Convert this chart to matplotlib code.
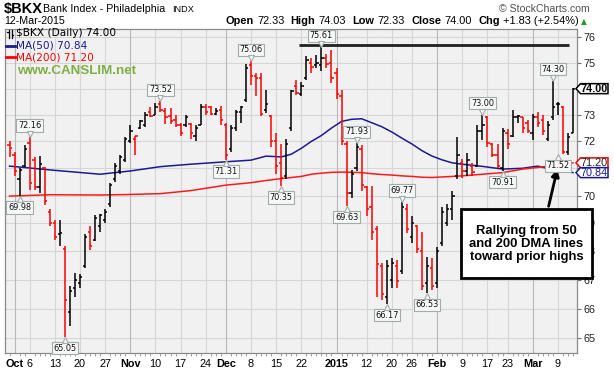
import matplotlib
matplotlib.use('Agg')
import matplotlib.pyplot as plt
import matplotlib.patches as mpatches
import matplotlib.transforms as mtransforms
from matplotlib.lines import Line2D
from matplotlib.ticker import FixedLocator, NullFormatter, NullLocator
import numpy as np
import pandas as pd

plt.rcParams['font.family'] = ['Liberation Sans', 'DejaVu Sans']

# trading days shown (Sep 30 2014 - Mar 12 2015)
holidays = ['2014-11-27', '2014-12-25', '2015-01-01', '2015-01-19', '2015-02-16']
dates = pd.bdate_range('2014-09-30', '2015-03-12')
dates = dates[~dates.isin(pd.to_datetime(holidays))]

opens = [71.85, 71.50, 70.60, 71.10, 71.95, 71.30, 70.30, 71.00, 69.40, 69.00,
         68.60, 68.10, 65.90, 66.70, 66.90, 67.50, 68.70, 68.40, 68.90, 69.10,
         69.70, 70.60, 70.90, 71.30, 72.00, 72.10, 72.50, 72.60, 73.10, 73.00,
         73.40, 73.15, 72.95, 72.80, 72.60, 72.60, 72.65, 72.20, 72.60, 73.30,
         73.30, 73.05, 73.20, 72.60, 71.70, 72.50, 73.10, 73.55, 74.90, 74.50,
         74.40, 73.20, 72.95, 72.00, 71.20, 70.70, 72.50, 74.10, 73.80, 74.40,
         75.00, 74.90, 74.90, 75.20, 75.00, 74.60, 73.70, 71.90, 70.10, 71.00,
         71.70, 70.30, 69.60, 68.80, 67.50, 66.40, 67.00, 67.50, 67.30, 69.50,
         68.50, 68.90, 68.00, 66.90, 67.40, 66.90, 68.30, 69.00, 69.50, 70.70,
         71.20, 70.90, 71.10, 71.10, 72.40, 72.90, 71.90, 71.50, 71.00, 72.30,
         72.20, 72.90, 72.90, 72.70, 72.30, 72.90, 72.80, 72.10, 72.90, 73.40,
         73.30, 71.60, 72.33]
highs = [72.00, 71.60, 71.00, 71.85, 72.16, 71.40, 71.45, 71.05, 69.50, 69.10,
         69.10, 68.20, 66.80, 67.25, 67.20, 68.60, 68.90, 69.30, 69.35, 69.50,
         70.45, 71.20, 71.50, 72.15, 72.60, 72.20, 72.80, 73.10, 73.30, 73.45,
         73.52, 73.25, 73.25, 73.00, 72.70, 73.00, 72.70, 72.60, 73.40, 73.40,
         73.35, 73.25, 73.35, 72.70, 72.60, 73.20, 73.35, 74.95, 75.06, 74.60,
         74.60, 73.95, 73.00, 72.30, 71.90, 72.10, 73.95, 74.35, 74.25, 75.25,
         75.20, 75.30, 75.61, 75.35, 75.50, 74.80, 73.95, 72.00, 70.95, 71.93,
         71.85, 70.35, 70.35, 68.90, 67.60, 67.70, 67.75, 67.70, 69.77, 69.70,
         69.25, 68.95, 68.70, 67.80, 67.75, 68.15, 69.60, 69.70, 70.15, 72.15,
         71.35, 71.55, 71.20, 72.60, 73.00, 72.95, 71.95, 71.90, 72.50, 72.45,
         73.20, 73.00, 72.90, 72.80, 73.05, 73.10, 73.00, 72.75, 74.30, 73.50,
         73.35, 72.30, 74.03]
lows = [71.40, 70.70, 69.98, 71.05, 70.20, 70.20, 70.10, 69.65, 68.90, 68.40,
        68.20, 65.05, 65.40, 66.40, 66.70, 67.40, 68.05, 68.35, 68.70, 69.00,
        69.60, 70.50, 70.80, 71.25, 71.95, 71.50, 72.45, 72.55, 72.90, 72.99,
        73.10, 72.65, 72.65, 72.55, 72.20, 72.55, 72.10, 72.00, 72.60, 73.00,
        73.00, 73.00, 72.60, 71.31, 71.60, 72.40, 72.70, 73.50, 74.15, 73.70,
        72.95, 73.06, 71.80, 70.80, 70.35, 70.60, 72.40, 73.75, 73.70, 74.35,
        74.60, 74.80, 74.70, 74.80, 74.20, 73.60, 71.85, 69.63, 69.90, 70.90,
        70.15, 69.25, 68.40, 66.40, 66.30, 66.17, 66.70, 66.70, 67.20, 68.65,
        68.30, 67.95, 66.65, 66.53, 66.65, 66.70, 68.20, 68.90, 69.10, 70.60,
        70.65, 70.70, 70.70, 71.05, 72.05, 71.80, 71.40, 71.00, 70.91, 71.70,
        72.15, 72.70, 72.30, 72.30, 72.05, 72.55, 72.25, 72.00, 72.80, 73.00,
        71.52, 71.50, 72.33]
closes = [71.75, 70.90, 70.95, 71.70, 70.45, 70.30, 71.15, 69.80, 69.00, 68.50,
          68.65, 66.30, 66.60, 67.00, 67.10, 68.50, 68.20, 69.20, 69.30, 69.40,
          70.40, 71.10, 71.40, 72.10, 72.40, 72.20, 72.75, 73.00, 72.95, 73.30,
          73.20, 72.90, 72.75, 72.60, 72.30, 72.90, 72.30, 72.50, 73.30, 73.10,
          73.05, 73.15, 72.80, 71.50, 72.50, 73.10, 73.30, 74.80, 74.50, 74.40,
          73.05, 73.40, 72.00, 71.10, 70.65, 71.90, 73.90, 73.85, 74.10, 75.10,
          74.85, 75.00, 75.20, 74.95, 74.40, 73.80, 72.00, 70.10, 70.80, 71.80,
          70.40, 69.50, 68.70, 67.55, 66.50, 67.50, 67.60, 66.95, 69.60, 68.80,
          69.00, 68.10, 66.80, 67.50, 66.80, 68.00, 69.40, 69.50, 70.00, 71.50,
          70.90, 71.30, 70.85, 72.40, 72.60, 71.95, 71.50, 71.10, 72.40, 71.90,
          72.90, 72.95, 72.50, 72.40, 72.90, 72.70, 72.40, 72.60, 73.30, 73.40,
          71.60, 72.17, 74.00]

# moving averages at some bars
ma_idx = [0, 8, 18, 24, 30, 36, 43, 48, 51, 54, 56, 58, 60, 62, 64, 66, 68, 70, 72, 74,
          76, 78, 80, 82, 84, 86, 88, 90, 94, 98, 102, 105, 108, 112]
ma50 = [71.08, 70.94, 70.78, 70.90, 71.06, 71.15, 71.24, 71.30, 71.45, 71.42,
        71.52, 71.74, 72.00, 72.22, 72.50, 72.75, 72.83, 72.85, 72.70, 72.55,
        72.35, 72.12, 71.90, 71.65, 71.45, 71.31, 71.20, 71.15, 71.07, 70.97,
        71.00, 71.08, 70.95, 70.84]
ma200 = [69.98, 70.03, 70.02, 70.04, 70.07, 70.18, 70.38, 70.47, 70.55, 70.62,
         70.66, 70.70, 70.78, 70.82, 70.85, 70.86, 70.85, 70.84, 70.80, 70.77,
         70.75, 70.72, 70.70, 70.67, 70.66, 70.68, 70.70, 70.72, 70.78, 70.84,
         70.97, 71.03, 71.10, 71.20]

tick_dates = ['2014-10-01', '2014-10-06', '2014-10-13', '2014-10-20', '2014-10-27',
              '2014-11-03', '2014-11-10', '2014-11-17', '2014-11-24', '2014-12-01',
              '2014-12-08', '2014-12-15', '2014-12-22', '2015-01-02', '2015-01-12',
              '2015-01-20', '2015-01-26', '2015-02-02', '2015-02-09', '2015-02-17',
              '2015-02-23', '2015-03-02', '2015-03-09']
tick_labels = ['Oct', '6', '13', '20', '27', 'Nov', '10', '17', '24', 'Dec', '8', '15', '22',
               '2015', '12', '20', '26', 'Feb', '9', '17', '23', 'Mar', '9']
month_labels = ['Oct', 'Nov', 'Dec', '2015', 'Feb', 'Mar']
extra_grid = ['2014-12-29']
y_ticks = [65, 66, 67, 68, 69, 70, 71, 72, 73, 74, 75, 76]
hidden_y = [71, 74]  # covered by the price tags

# labelled highs / lows
label_idx = [4, 2, 11, 30, 43, 48, 54, 62, 67, 69, 75, 78, 83, 94, 98, 108, 110]
label_kind = ['h', 'l', 'l', 'h', 'l', 'h', 'l', 'h', 'l', 'h', 'l', 'h', 'l', 'h', 'l', 'h', 'l']
resistance = 75.70

W, H = 614, 375
fig = plt.figure(figsize=(W / 100, H / 100), dpi=100, facecolor='white')
ax = fig.add_axes([5 / W, 1 - 353 / H, 572 / W, 324 / H])
ax.set_facecolor('#f1f1f1')

def fx(px):
    return px / W

def fy(py):
    return 1 - py / H

n = len(closes)
x = np.arange(n)
prev = [opens[0]] + closes[:-1]
colors = ['#ff0000' if c < p else '#000000' for c, p in zip(closes, prev)]

ax.set_yscale('log')
ax.set_ylim(64.5, 76.33)
ax.set_xlim(-0.9, 112.8)

# grid
for v in y_ticks:
    ax.axhline(v, color='#d6d6d6', lw=0.8, zorder=0)
for d, lab in zip(tick_dates, tick_labels):
    k = dates.get_loc(pd.Timestamp(d))
    ax.axvline(k, color='#b8b8b8' if lab in month_labels else '#d6d6d6', lw=0.8, zorder=0)
for d in extra_grid:
    ax.axvline(dates.get_loc(pd.Timestamp(d)), color='#d6d6d6', lw=0.8, zorder=0)

# moving averages
ax.plot(ma_idx, ma50, color='#1a1a90', lw=1.1, zorder=2)
ax.plot(ma_idx, ma200, color='#ff1a1a', lw=1.1, zorder=2)

# OHLC bars
ax.vlines(x, lows, highs, colors=colors, lw=1.1, zorder=3)
ax.hlines(opens, x - 0.45, x, colors=colors, lw=1.1, zorder=3)
ax.hlines(closes, x, x + 0.45, colors=colors, lw=1.1, zorder=3)

# resistance line at prior highs
ax.hlines(resistance, 57.5, 111.3, colors='#202020', lw=2, zorder=4)

# axes styling
for s in ax.spines.values():
    s.set_color('#8a8a8a')
    s.set_linewidth(0.9)
ax.yaxis.tick_right()
ax.yaxis.set_major_locator(FixedLocator(y_ticks))
ax.yaxis.set_minor_locator(NullLocator())
ax.yaxis.set_minor_formatter(NullFormatter())
ax.set_yticklabels(['' if v in hidden_y else str(v) for v in y_ticks])
ax.tick_params(axis='y', which='major', length=3, pad=2, labelsize=7.8,
               color='#707070', labelcolor='#202020')

tick_pos = [dates.get_loc(pd.Timestamp(d)) for d in tick_dates]
ax.set_xticks(tick_pos)
ax.set_xticklabels(tick_labels)
ax.set_xticks(x, minor=True)
ax.tick_params(axis='x', which='major', length=0, pad=4, labelsize=7.8)
ax.tick_params(axis='x', which='minor', length=2, color='#909090', width=0.6)
for t in ax.get_xticklabels():
    if t.get_text() in month_labels:
        t.set_fontweight('bold')

# high / low labels
for k, kind in zip(label_idx, label_kind):
    if kind == 'h':
        price, dy, va, mk = highs[k], 7, 'bottom', 'v'
    else:
        price, dy, va, mk = lows[k], -7, 'top', '^'
    dx = -5 if k == 110 else 0
    ax.annotate(f'{price:.2f}', xy=(k, price), xytext=(dx, dy),
                textcoords='offset pixels', ha='center', va=va,
                fontsize=5.9, family='DejaVu Sans', color='#111111', zorder=6,
                bbox=dict(boxstyle='square,pad=0.2', fc='#f6f7f7', ec='#a0abab', lw=0.8))
    tr = mtransforms.offset_copy(ax.transData, fig=fig, x=dx, y=3 if kind == 'h' else -3,
                                 units='dots')
    ax.plot([k], [price], marker=mk, ms=4, mfc='#f6f7f7', mec='#a0abab', mew=0.8,
            transform=tr, zorder=6, clip_on=False)

# price tags on the right axis
def price_tag(price, text, edge, tcolor, weight):
    yd = ax.transData.transform((0, price))[1]
    py = H - yd
    pts = [(576, py), (580.5, py - 5), (608, py - 5), (608, py + 5), (580.5, py + 5)]
    poly = mpatches.Polygon([(fx(a), fy(b)) for a, b in pts], closed=True,
                            transform=fig.transFigure, fc='white', ec=edge, lw=1.1)
    fig.add_artist(poly)
    fig.text(fx(594.5), fy(py), text, ha='center', va='center', fontsize=7.8,
             color=tcolor, fontweight=weight)

price_tag(ma200[-1], f'{ma200[-1]:.2f}', '#ff0000', '#202020', 'normal')
price_tag(ma50[-1], f'{ma50[-1]:.2f}', '#1a1a90', '#1a1a90', 'normal')
price_tag(closes[-1], f'{closes[-1]:.2f}', '#000000', '#000000', 'bold')

# legend inside the plot
for bx in (8.5, 11.5):
    fig.add_artist(Line2D([fx(bx), fx(bx)], [fy(30), fy(37.5)], color='#000000', lw=0.9))
fig.add_artist(Line2D([fx(7), fx(8.5)], [fy(32), fy(32)], color='#000000', lw=0.9))
fig.add_artist(Line2D([fx(11.5), fx(13)], [fy(35), fy(35)], color='#000000', lw=0.9))
fig.text(fx(16), fy(33.5), f'$BKX (Daily) {closes[-1]:.2f}', fontsize=7.6,
         family='DejaVu Sans', va='center', color='#000000')
fig.add_artist(Line2D([fx(6), fx(15)], [fy(45.5), fy(45.5)], color='#1a1a90', lw=2))
fig.text(fx(16), fy(45.5), f'MA(50) {ma50[-1]:.2f}', fontsize=7.6,
         family='DejaVu Sans', va='center', color='#1a1a90')
fig.add_artist(Line2D([fx(6), fx(15)], [fy(57), fy(57)], color='#ff0000', lw=2))
fig.text(fx(16), fy(57), f'MA(200) {ma200[-1]:.2f}', fontsize=7.6,
         family='DejaVu Sans', va='center', color='#ff0000')
fig.text(fx(17), fy(70.5), 'www.CANSLIM.net', fontsize=9.6, fontweight='bold',
         va='center', color='#7fae45')

# header
fig.text(fx(4), fy(9), '$BKX', fontsize=10.5, fontweight='bold', va='center')
fig.text(fx(43), fy(9.5), 'Bank Index - Philadelphia', fontsize=7.7, va='center')
fig.text(fx(172), fy(9.5), 'INDX', fontsize=6.6, va='center')
fig.text(fx(590), fy(8.5), '© StockCharts.com', fontsize=7.6, va='center', ha='right',
         color='#505050')
fig.text(fx(4), fy(21.5), '12-Mar-2015', fontsize=7.7, va='center')

chg = closes[-1] - closes[-2]
pct = chg / closes[-2] * 100
pieces = [('Open', 'bold'), (f'{opens[-1]:.2f}', 'normal'),
          ('High', 'bold'), (f'{highs[-1]:.2f}', 'normal'),
          ('Low', 'bold'), (f'{lows[-1]:.2f}', 'normal'),
          ('Close', 'bold'), (f'{closes[-1]:.2f}', 'normal'),
          ('Chg', 'bold'), (f'{chg:+.2f} ({pct:+.2f}%)', 'normal')]
renderer = fig.canvas.get_renderer()
fig.text(fx(587), fy(21.5), '▲', fontsize=5.5, ha='right', va='center', color='#1fa01f',
         family=['DejaVu Sans'])
cx = 579
for txt, wt in reversed(pieces):
    t = fig.text(fx(cx), fy(21.5), txt, fontsize=7.9, fontweight=wt, ha='right', va='center')
    w = t.get_window_extent(renderer).width
    cx -= w + (3 if wt == 'bold' else 3.5)
    if wt == 'bold':
        cx -= 3

# comment box with arrow
ax.annotate('', xy=(558, H - 166), xytext=(548, H - 209), xycoords='figure pixels',
            textcoords='figure pixels',
            arrowprops=dict(arrowstyle='-|>', lw=2, color='black', mutation_scale=11))
box = mpatches.Rectangle((fx(461), fy(278)), (592 - 461) / W, (278 - 209) / H,
                         transform=fig.transFigure, fc='white', ec='black', lw=2, zorder=10)
fig.add_artist(box)
fig.text(fx(526.5), fy(244), 'Rallying from 50\nand 200 DMA lines\ntoward prior highs',
         ha='center', va='center', fontsize=9.4, fontweight='bold', linespacing=1.15,
         zorder=11)

fig.savefig('out.png', dpi=100, facecolor='white')
